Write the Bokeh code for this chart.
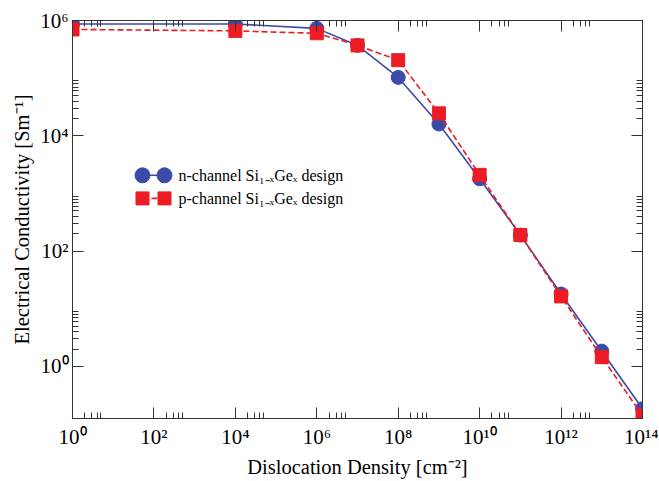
from bokeh.plotting import figure
from bokeh.models import (LogAxis, FixedTicker, CustomJSTickFormatter, Range1d, LinearScale, Label)
from bokeh.embed import file_html
from bokeh.resources import INLINE

# ---- data ----
density = [1e0, 1e4, 1e6, 1e7, 1e8, 1e9, 1e10, 1e11, 1e12, 1e13, 1e14]
n_channel = [8.7e5, 8.7e5, 7.3e5, 3.7e5, 1.03e5, 1.6e4, 1.8e3, 190, 18, 1.84, 0.185]
p_channel = [7.0e5, 6.6e5, 6.0e5, 3.7e5, 2.05e5, 2.45e4, 2.1e3, 190, 16.4, 1.45, 0.141]

x_major = [1e0, 1e2, 1e4, 1e6, 1e8, 1e10, 1e12, 1e14]
y_major = [1e0, 1e2, 1e4, 1e6]
x_minor_mult = [2, 3, 4, 5]
y_minor_mult = [2, 3, 4, 5, 6, 7, 8, 9]

n_label = "n-channel Si\u2081\u208b\u2093Ge\u2093 design"
p_label = "p-channel Si\u2081\u208b\u2093Ge\u2093 design"
x_title = "Dislocation Density [cm\u207b\u00b2]"
y_title = "Electrical Conductivity [Sm\u207b\u00b9]"

# legend layout, as fractions of the plot frame
LEG_MARK_X = [0.1228, 0.1614]
LEG_ROW_Y = [0.611, 0.553]
LEG_TEXT_X = 0.186

BLUE = "#3b4ba8"
RED = "#ed1c24"
FONT = "Liberation Serif"
AX = "#333333"

x_minor = [m * t for t in x_major[:-1] for m in x_minor_mult]
y_minor = [m * t for t in y_major[:-1] for m in y_minor_mult]

p = figure(width=658, height=480, x_axis_type="log", y_axis_type="log",
           x_range=Range1d(1e0, 1e14), y_range=Range1d(0.125, 1e6),
           output_backend="svg", toolbar_location=None,
           min_border_left=72, min_border_right=16, min_border_top=20, min_border_bottom=62)
p.grid.visible = False
p.outline_line_color = AX
p.background_fill_color = "white"
p.extra_x_ranges = {"fx": Range1d(0, 1)}
p.extra_y_ranges = {"fy": Range1d(0, 1)}
p.extra_x_scales = {"fx": LinearScale()}
p.extra_y_scales = {"fy": LinearScale()}

fmt = CustomJSTickFormatter(code="""
const sup = {'0':'\u2070','1':'\u00b9','2':'\u00b2','3':'\u00b3','4':'\u2074','5':'\u2075',
             '6':'\u2076','7':'\u2077','8':'\u2078','9':'\u2079','-':'\u207b'};
const e = Math.round(Math.log10(tick));
return '10' + String(e).split('').map(c => sup[c]).join('');
""")

def style(ax, ticks, minor, show_labels):
    ax.ticker = FixedTicker(ticks=ticks, minor_ticks=minor)
    ax.axis_line_color = AX
    ax.major_tick_line_color = AX
    ax.minor_tick_line_color = AX
    ax.major_tick_in = 11
    ax.major_tick_out = 0
    ax.minor_tick_in = 6
    ax.minor_tick_out = 0
    ax.major_tick_line_width = 1
    ax.minor_tick_line_width = 1
    if show_labels:
        ax.formatter = fmt
        ax.major_label_text_font = FONT
        ax.major_label_text_font_size = "21px"
        ax.major_label_text_color = "black"
        ax.axis_label_text_font = FONT
        ax.axis_label_text_font_size = "20.5px"
        ax.axis_label_text_font_style = "normal"
        ax.axis_label_text_color = "black"
    else:
        ax.major_label_text_font_size = "1px"
        ax.major_label_text_color = None
        ax.major_label_standoff = 0

xa = p.xaxis[0]
ya = p.yaxis[0]
style(xa, x_major, x_minor, True)
style(ya, y_major, y_minor, True)
xa.axis_label = x_title
ya.axis_label = y_title
xa.major_label_standoff = 6
xa.axis_label_standoff = 4
ya.major_label_standoff = 4
ya.axis_label_standoff = 4

top = LogAxis()
right = LogAxis()
style(top, x_major, x_minor, False)
style(right, y_major, y_minor, False)
p.add_layout(top, "above")
p.add_layout(right, "right")

p.line(density, n_channel, line_color=BLUE, line_width=1.6)
p.scatter(density, n_channel, marker="circle", size=14, fill_color=BLUE, line_color=BLUE)
p.line(density, p_channel, line_color=RED, line_width=1.6, line_dash="6 3")
p.scatter(density, p_channel, marker="square", size=13, fill_color=RED, line_color=RED)

# hand-made legend (two markers joined by a line, as in the reference)
p.segment(x0=[LEG_MARK_X[0]], y0=[LEG_ROW_Y[0]], x1=[LEG_MARK_X[1]], y1=[LEG_ROW_Y[0]],
          line_color=BLUE, line_width=1.6, x_range_name="fx", y_range_name="fy")
p.scatter(x=LEG_MARK_X, y=[LEG_ROW_Y[0]] * 2, marker="circle", size=15,
          fill_color=BLUE, line_color=BLUE, x_range_name="fx", y_range_name="fy")
p.segment(x0=[LEG_MARK_X[0]], y0=[LEG_ROW_Y[1]], x1=[LEG_MARK_X[1]], y1=[LEG_ROW_Y[1]],
          line_color=RED, line_width=1.6, line_dash="6 3", x_range_name="fx", y_range_name="fy")
p.scatter(x=LEG_MARK_X, y=[LEG_ROW_Y[1]] * 2, marker="square", size=13,
          fill_color=RED, line_color=RED, x_range_name="fx", y_range_name="fy")
for lab, yy in zip([n_label, p_label], LEG_ROW_Y):
    p.add_layout(Label(x=LEG_TEXT_X, y=yy, text=lab, x_range_name="fx", y_range_name="fy",
                       text_font=FONT, text_font_size="16px", text_baseline="middle",
                       text_align="left", text_color="black"))

open("out.html", "w").write(file_html(p, INLINE))
